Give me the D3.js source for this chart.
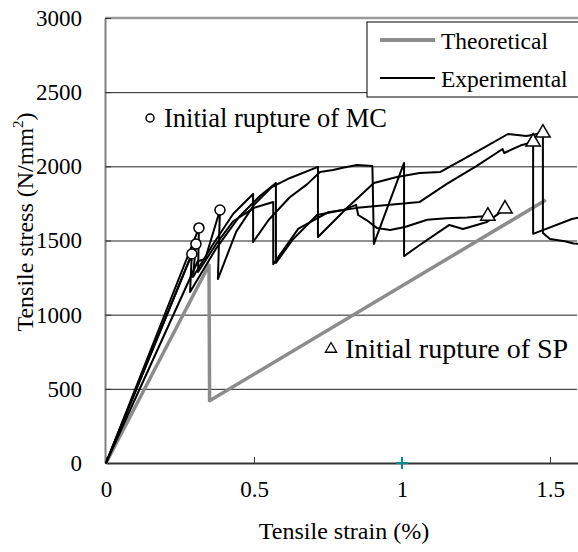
<!DOCTYPE html>
<html>
<head>
<meta charset="utf-8">
<script src="https://cdn.jsdelivr.net/npm/d3@7"></script>
<style>
  body { margin: 0; background: #fff; }
  svg { display: block; }
  svg text { font-family: "Liberation Serif", "Times New Roman", serif; fill: #000; }
</style>
</head>
<body>
<div id="chart"></div>
<script>
const xTicks = [0, 0.5, 1, 1.5];
const yTicks = [0, 500, 1000, 1500, 2000, 2500, 3000];
const gridValues = [500, 1000, 1500, 2000, 2500];

// theoretical curve (strain %, stress N/mm2)
const theoretical = [[0, 0], [0.348, 1335], [0.35, 420], [1.486, 1773]];

// experimental specimens
const specimen1 = [[0, 0], [0.29, 1409], [0.284, 1153], [0.37, 1440], [0.45, 1660], [0.52, 1800], [0.574, 1888],
  [0.574, 1349], [0.63, 1504], [0.713, 1672], [0.8, 1705], [0.845, 1740], [0.852, 1672], [0.88, 1638],
  [0.915, 1585], [0.96, 1571], [1.01, 1591], [1.085, 1640], [1.15, 1650], [1.22, 1655], [1.29, 1665]];
const specimen2 = [[0, 0], [0.304, 1477], [0.294, 1254], [0.36, 1470], [0.43, 1680], [0.497, 1814],
  [0.497, 1490], [0.55, 1640], [0.62, 1790], [0.68, 1880], [0.723, 1962], [0.767, 1975], [0.8, 1990],
  [0.848, 2009], [0.9, 2003], [0.905, 1477], [1.007, 2023], [1.007, 1395], [1.06, 1470], [1.16, 1605],
  [1.206, 1578], [1.287, 1625], [1.33, 1686], [1.348, 1713]];
const specimen3 = [[0, 0], [0.314, 1585], [0.311, 1288], [0.37, 1470], [0.43, 1630], [0.5, 1720],
  [0.565, 1760], [0.565, 1340], [0.65, 1580], [0.75, 1690], [0.85, 1720], [0.95, 1740], [1.06, 1760],
  [1.15, 1880], [1.25, 2000], [1.34, 2117], [1.345, 2090], [1.4, 2140], [1.443, 2165], [1.443, 1545],
  [1.574, 1645], [1.62, 1665]];
const specimen4 = [[0, 0], [0.31, 1360], [0.335, 1375], [0.385, 1706], [0.378, 1240], [0.44, 1560],
  [0.5, 1740], [0.56, 1860], [0.62, 1920], [0.716, 1996], [0.716, 1524], [0.814, 1719], [0.905, 1888],
  [0.983, 1928], [1.06, 1955], [1.13, 1962], [1.2, 2040], [1.28, 2130], [1.358, 2218], [1.42, 2205],
  [1.476, 2225], [1.476, 1550], [1.5, 1510], [1.55, 1495], [1.58, 1480], [1.62, 1475]];
const specimens = [specimen1, specimen2, specimen3, specimen4];

// rupture markers
const mcRupture = [[0.29, 1409], [0.304, 1477], [0.314, 1585], [0.385, 1706]];
const spRupture = [[1.29, 1665], [1.348, 1713], [1.443, 2165], [1.476, 2225]];
const crossMark = [[1, 0]];

const legendLabels = ["Theoretical", "Experimental"];
const noteMC = "Initial rupture of MC";
const noteSP = "Initial rupture of SP";

const W = 578, H = 552;
const plot = { left: 106, right: 579.6, top: 18, bottom: 463 };
const FONT = '"Liberation Serif", "Times New Roman", serif';

const svg = d3.select('#chart').append('svg')
  .attr('width', W)
  .attr('height', H);

const x = d3.scaleLinear().domain([0, 1.6]).range([plot.left, plot.right]);
const y = d3.scaleLinear().domain([0, 3000]).range([plot.bottom, plot.top]);

svg.append('defs').append('clipPath').attr('id', 'clip')
  .append('rect')
  .attr('x', plot.left - 1).attr('y', plot.top - 2)
  .attr('width', W - plot.left + 1).attr('height', plot.bottom - plot.top + 4);

// gridlines
svg.append('g')
  .attr('transform', `translate(${plot.left - 1},0)`)
  .call(d3.axisLeft(y).tickValues(gridValues).tickSize(-(W - plot.left)).tickFormat(''))
  .call(g => g.select('.domain').remove())
  .call(g => g.selectAll('line').attr('stroke', '#222').attr('stroke-width', 1));

// top border
svg.append('line')
  .attr('x1', plot.left - 1).attr('x2', W)
  .attr('y1', y(3000)).attr('y2', y(3000))
  .attr('stroke', '#9a9a9a').attr('stroke-width', 2.5);

// y axis
svg.append('g')
  .attr('transform', `translate(${plot.left - 1},0)`)
  .call(d3.axisLeft(y).tickValues(yTicks).tickSize(-6).tickPadding(23).tickSizeOuter(0)
    .tickFormat(d3.format('d')))
  .attr('font-family', FONT)
  .attr('font-size', 23)
  .call(g => g.select('.domain').attr('stroke', '#808080').attr('stroke-width', 2))
  .call(g => g.selectAll('line').attr('stroke', '#333'));

// x axis
svg.append('g')
  .attr('transform', `translate(0,${plot.bottom})`)
  .call(d3.axisBottom(x).tickValues(xTicks).tickSize(-6).tickPadding(18).tickSizeOuter(0)
    .tickFormat(d3.format('~g')))
  .attr('font-family', FONT)
  .attr('font-size', 23)
  .call(g => g.select('.domain').attr('stroke', '#333').attr('stroke-width', 1.8))
  .call(g => g.selectAll('line').attr('stroke', '#333'));

const line = d3.line().x(d => x(d[0])).y(d => y(d[1]));
const marks = svg.append('g').attr('clip-path', 'url(#clip)');

// theoretical
marks.append('path')
  .datum(theoretical)
  .attr('fill', 'none')
  .attr('stroke', '#8c8c8c')
  .attr('stroke-width', 3.5)
  .attr('stroke-linejoin', 'round')
  .attr('d', line);

// experimental
marks.selectAll('.spec')
  .data(specimens)
  .join('path')
  .attr('class', 'spec')
  .attr('fill', 'none')
  .attr('stroke', '#000')
  .attr('stroke-width', 2)
  .attr('stroke-linejoin', 'round')
  .attr('d', line);

// MC rupture circles
marks.selectAll('.mc')
  .data(mcRupture)
  .join('circle')
  .attr('class', 'mc')
  .attr('cx', d => x(d[0]))
  .attr('cy', d => y(d[1]))
  .attr('r', 5)
  .attr('fill', '#fff')
  .attr('stroke', '#000')
  .attr('stroke-width', 1.5);

// SP rupture triangles
const tri = d3.symbol().type(d3.symbolTriangle).size(90);
marks.selectAll('.sp')
  .data(spRupture)
  .join('path')
  .attr('class', 'sp')
  .attr('transform', d => `translate(${x(d[0])},${y(d[1])})`)
  .attr('d', tri)
  .attr('fill', '#fff')
  .attr('stroke', '#000')
  .attr('stroke-width', 1.5);

// teal cross at (1, 0)
svg.selectAll('.cross')
  .data(crossMark)
  .join('path')
  .attr('class', 'cross')
  .attr('transform', d => `translate(${x(d[0])},${y(d[1])})`)
  .attr('d', 'M-6,0H6M0,-6V6')
  .attr('stroke', '#0a8a8a')
  .attr('stroke-width', 2);

// annotations
svg.append('circle')
  .attr('cx', 150).attr('cy', 118).attr('r', 4)
  .attr('fill', '#fff').attr('stroke', '#000').attr('stroke-width', 1.5);
svg.append('text')
  .attr('x', 164).attr('y', 127)
  .attr('font-size', 26.5)
  .text(noteMC);

svg.append('path')
  .attr('transform', 'translate(331,349)')
  .attr('d', d3.symbol().type(d3.symbolTriangle).size(55))
  .attr('fill', '#fff').attr('stroke', '#000').attr('stroke-width', 1.3);
svg.append('text')
  .attr('x', 345).attr('y', 358)
  .attr('font-size', 28)
  .text(noteSP);

// legend
const legend = svg.append('g');
legend.append('rect')
  .attr('x', 367).attr('y', 22)
  .attr('width', 230).attr('height', 75)
  .attr('fill', '#fff').attr('stroke', '#000').attr('stroke-width', 1);
const legendStyles = [{ stroke: '#8c8c8c', width: 4 }, { stroke: '#000', width: 2 }];
legend.selectAll('.lg')
  .data(legendLabels)
  .join('g')
  .attr('class', 'lg')
  .attr('transform', (d, i) => `translate(380,${40 + i * 38})`)
  .each(function (d, i) {
    const g = d3.select(this);
    g.append('line')
      .attr('x1', 0).attr('x2', 55)
      .attr('stroke', legendStyles[i].stroke)
      .attr('stroke-width', legendStyles[i].width);
    g.append('text')
      .attr('x', 61).attr('y', 9)
      .attr('font-size', 23.5)
      .text(d);
  });

// axis titles
svg.append('text')
  .attr('x', 344).attr('y', 539)
  .attr('text-anchor', 'middle')
  .attr('font-size', 24)
  .text('Tensile strain (%)');

const yTitle = svg.append('text')
  .attr('transform', 'translate(33,222) rotate(-90)')
  .attr('text-anchor', 'middle')
  .attr('font-size', 24);
yTitle.append('tspan').text('Tensile stress (N/mm');
yTitle.append('tspan').attr('font-size', 15).attr('dy', -10).text('2');
yTitle.append('tspan').attr('dy', 10).text(')');
</script>
</body>
</html>
